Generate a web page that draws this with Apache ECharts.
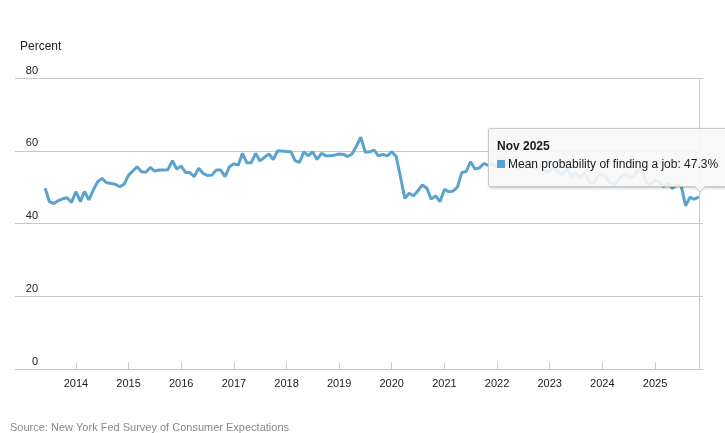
<!DOCTYPE html>
<html>
<head>
<meta charset="utf-8">
<script src="https://cdn.jsdelivr.net/npm/echarts@6/dist/echarts.min.js"></script>
<style>
html,body{margin:0;padding:0;background:#fff;}
#chart{width:725px;height:433px;}
</style>
</head>
<body>
<div id="chart"></div>
<script>
// Monthly values, June 2013 .. November 2025
var startYear = 2013, startMonth = 5; // June (0-based)
var values2013 = [49.7, 46.0, 45.5, 46.3, 46.8, 47.1, 45.8];
var values2014 = [48.8, 46.0, 48.8, 46.5, 49.2, 51.5, 52.4, 51.2, 51.0, 50.8, 50.1, 50.8];
var values2015 = [53.3, 54.5, 55.6, 54.2, 54.1, 55.4, 54.4, 54.7, 54.7, 54.8, 57.3, 55.0];
var values2016 = [55.8, 54.0, 54.0, 52.9, 55.2, 53.8, 53.2, 53.3, 54.7, 54.7, 52.9, 55.6];
var values2017 = [56.4, 56.1, 59.3, 56.7, 56.7, 59.3, 57.2, 58.2, 59.1, 57.6, 60.0, 59.9];
var values2018 = [59.8, 59.7, 57.3, 56.8, 59.7, 58.6, 59.7, 57.6, 59.3, 58.6, 58.6, 58.8];
var values2019 = [59.1, 59.0, 58.4, 59.1, 61.3, 63.7, 59.6, 59.7, 60.2, 58.6, 59.0, 58.6];
var values2020 = [59.7, 58.4, 53.0, 46.9, 48.3, 47.6, 49.0, 50.6, 49.7, 46.7, 47.6, 46.0];
var values2021 = [49.4, 48.7, 48.9, 50.0, 54.0, 54.3, 57.0, 55.0, 55.3, 56.5, 56.0, 56.5];
var values2022 = [55.5, 57.5, 56.0, 57.0, 56.5, 55.0, 56.0, 57.0, 55.5, 55.0, 55.8, 54.0];
var values2023 = [54.5, 55.5, 54.0, 53.5, 55.0, 53.0, 54.0, 52.5, 54.0, 51.5, 51.0, 53.0];
var values2024 = [53.5, 52.5, 51.0, 50.8, 52.5, 53.5, 53.0, 52.5, 54.5, 55.0, 51.5, 50.6];
var values2025 = [52.0, 51.5, 50.1, 51.0, 49.7, 50.6, 50.5, 44.9, 47.2, 46.7, 47.3];

var yearTicks = [2014, 2015, 2016, 2017, 2018, 2019, 2020, 2021, 2022, 2023, 2024, 2025];
var yTicks = [0, 20, 40, 60, 80];
var seriesName = 'Mean probability of finding a job';
var monthNames = ['Jan','Feb','Mar','Apr','May','Jun','Jul','Aug','Sep','Oct','Nov','Dec'];

var allValues = [].concat(values2013, values2014, values2015, values2016, values2017, values2018,
  values2019, values2020, values2021, values2022, values2023, values2024, values2025);
var data = allValues.map(function (v, i) {
  return [Date.UTC(startYear, startMonth + i, 1), v];
});
var yearTs = yearTicks.map(function (y) { return Date.UTC(y, 0, 1); });

var FONT = '"Liberation Sans", Arial, sans-serif';
var chart = echarts.init(document.getElementById('chart'));
var lineColor = '#5ba3cf';
var tipBg = 'rgba(247,247,247,0.9)';

chart.setOption({
  animation: false,
  textStyle: { fontFamily: FONT },
  grid: { left: 15, right: 22, top: 78, bottom: 64 },
  graphic: [
    { type: 'text', left: 20, top: 41, style: { text: 'Percent', font: '12px ' + FONT, fill: '#222' } },
    { type: 'text', left: 10, top: 422, style: { text: 'Source: New York Fed Survey of Consumer Expectations', font: '11px ' + FONT, fill: '#888' } }
  ],
  tooltip: {
    trigger: 'axis',
    alwaysShowContent: true,
    transitionDuration: 0,
    backgroundColor: tipBg,
    borderColor: '#c8c8c8',
    borderWidth: 1,
    padding: [8, 8, 13, 8],
    extraCssText: 'box-shadow:1px 1px 3px rgba(0,0,0,0.25);border-radius:2px;line-height:18px;',
    textStyle: { fontFamily: FONT, fontSize: 12, color: '#222' },
    axisPointer: { type: 'line', lineStyle: { color: '#c8c8c8', width: 1, type: 'solid' }, label: { show: false } },
    position: function () { return [488, 128]; },
    formatter: function (params) {
      var p = params[0];
      var d = new Date(p.value[0]);
      return '<div style="font-weight:bold;color:#1a1a1a">' + monthNames[d.getUTCMonth()] + ' ' + d.getUTCFullYear() + '</div>' +
        '<span style="display:inline-block;width:8px;height:8px;background:' + lineColor + ';margin-right:3px"></span>' +
        '<span style="color:#1a1a1a">' + seriesName + ': ' + p.value[1].toFixed(1) + '%</span>' +
        '<div style="position:absolute;right:22px;bottom:-5px;width:7px;height:7px;background:#f7f7f7;' +
        'border-right:1px solid #c8c8c8;border-bottom:1px solid #c8c8c8;transform:rotate(45deg)"></div>';
    }
  },
  xAxis: {
    type: 'value',
    min: Date.UTC(2012, 10, 4),
    max: Date.UTC(2025, 10, 30),
    axisLine: { show: true, lineStyle: { color: '#c8c8c8', width: 1 } },
    axisTick: { show: true, inside: true, length: 7, lineStyle: { color: '#c8c8c8' }, customValues: yearTs },
    axisLabel: {
      customValues: yearTs,
      formatter: function (v) { return String(new Date(v).getUTCFullYear()); },
      fontSize: 11, color: '#222', margin: 9, fontFamily: FONT
    },
    splitLine: { show: false }
  },
  yAxis: {
    type: 'value',
    min: 0, max: 80, interval: 20,
    axisLine: { show: false },
    axisTick: { show: false },
    axisLabel: {
      inside: true, align: 'right', verticalAlign: 'bottom', margin: 23,
      padding: [0, 0, 2, 0], fontSize: 11, color: '#222', fontFamily: FONT,
      formatter: function (v) { return yTicks.indexOf(v) >= 0 ? String(v) : ''; }
    },
    splitLine: { show: true, lineStyle: { color: '#c8c8c8', width: 1 } }
  },
  series: [{
    name: seriesName,
    type: 'line',
    data: data,
    symbol: 'none',
    showSymbol: false,
    lineStyle: { color: lineColor, width: 3 },
    itemStyle: { color: lineColor },
    emphasis: { disabled: true }
  }]
});

chart.dispatchAction({ type: 'showTip', seriesIndex: 0, dataIndex: data.length - 1 });
</script>
</body>
</html>
